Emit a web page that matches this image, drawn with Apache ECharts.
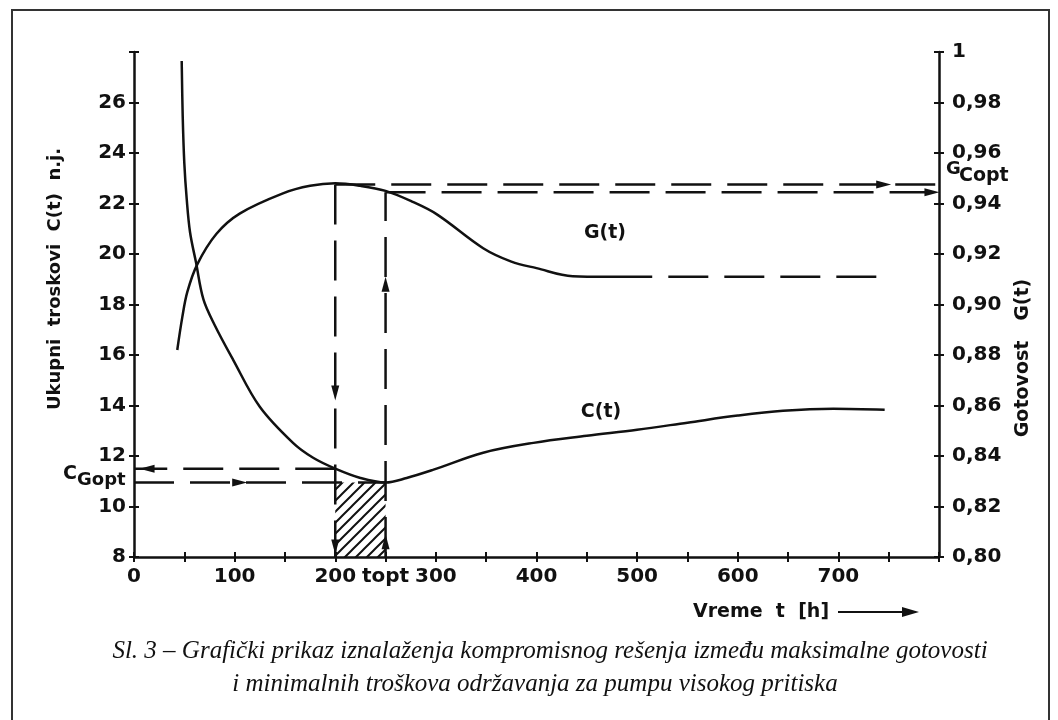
<!DOCTYPE html>
<html>
<head>
<meta charset="utf-8">
<title>Sl. 3</title>
<script src="https://cdn.jsdelivr.net/npm/echarts@6/dist/echarts.min.js"></script>
<style>
  html,body{margin:0;padding:0;background:#fff;}
  #main{width:1058px;height:720px;}
</style>
</head>
<body>
<div id="main"></div>
<script>
// C(t) - ukupni troskovi (leva osa), G(t) - gotovost (desna osa)
var costPoints = [[47.4,27.64],[48.4,25.46],[50,23.6],[52.4,22.17],[55.7,20.86],[61.6,19.67],[69,18.2],[80,17.2],[98.4,15.82],[125,13.95],[158,12.52],[178,11.93],[200,11.5],[225,11.13],[250,10.95],[271,11.13],[297,11.45],[347,12.13],[397,12.52],[450,12.8],[500,13.04],[550,13.32],[600,13.6],[645,13.79],[695,13.87],[746,13.83]];
var availPoints = [[43,0.882],[48,0.895],[53,0.905],[63,0.916],[82,0.928],[105,0.936],[148,0.944],[175,0.947],[200,0.948],[225,0.947],[250,0.945],[275,0.941],[301,0.9357],[347,0.9223],[375,0.917],[400,0.9144],[436,0.9112],[470,0.911],[515,0.911]];
var availTail = [[531,0.911],[746,0.911]];

var tMax = 200, tOpt = 250, tEnd = 800;
var cGopt = [11.5, 10.95];     // gornja i donja linija kod C ose
var gCopt = [0.9475, 0.9445];  // gornja i donja linija kod G ose

// strelice: [t, vrednost, rotacija]
var arrowsC = [[13,11.5,90],[105,10.95,-90],[200,14.5,180],[200,8.4,180],[250,18.8,0],[250,8.6,0]];
var arrowsG = [[745,0.9475,-90],[793,0.9445,-90]];

var xTicks = [0,100,200,300,400,500,600,700];
var leftTicks = [8,10,12,14,16,18,20,22,24,26];

var ink = '#111';
var font = '"DejaVu Sans"';

function hatch(){
  var c = document.createElement('canvas');
  c.width = 11; c.height = 11;
  var g = c.getContext('2d');
  g.strokeStyle = ink;
  g.lineWidth = 2;
  g.beginPath();
  g.moveTo(-2,13); g.lineTo(13,-2);
  g.moveTo(-2,2); g.lineTo(2,-2);
  g.moveTo(9,13); g.lineTo(13,9);
  g.stroke();
  return c;
}

function dashed(data, yIdx){
  return {
    type:'line', yAxisIndex:yIdx, data:data, showSymbol:false, silent:true,
    lineStyle:{color:ink, width:2.5, type:[40,16]}, z:3
  };
}

function arrowData(list){
  return list.map(function(a){
    return {value:[a[0],a[1]], symbolRotate:a[2]};
  });
}

var labelStyle = {color:ink, fontFamily:font, fontWeight:'bold', fontSize:20};
var tickStyle = {color:ink, width:2};

var xBase = {type:'value', min:0, max:800, interval:50, position:'bottom'};
var yLeft = {type:'value', min:8, max:28, interval:2, position:'left'};
var yRight = {type:'value', min:0.8, max:1.0, interval:0.02, position:'right'};

var myChart = echarts.init(document.getElementById('main'));
var option = {
  backgroundColor:'#fff',
  animation:false,
  grid:{left:134, right:119, top:52, bottom:163},
  xAxis:[
    Object.assign({}, xBase, {
      axisLine:{onZero:false, lineStyle:{color:ink, width:2.5}},
      axisTick:{length:5, lineStyle:tickStyle},
      splitLine:{show:false},
      axisLabel:Object.assign({margin:10, formatter:function(v){
        if(v===tOpt) return 'topt';
        if(xTicks.indexOf(v)>=0) return v;
        return '';
      }}, labelStyle)
    }),
    Object.assign({}, xBase, {
      axisLine:{show:false, onZero:false}, axisLabel:{show:false}, splitLine:{show:false},
      axisTick:{inside:true, length:5, lineStyle:tickStyle}
    })
  ],
  yAxis:[
    Object.assign({}, yLeft, {
      axisLine:{show:true, onZero:false, lineStyle:{color:ink, width:2.5}},
      axisTick:{show:true, length:5, lineStyle:tickStyle},
      splitLine:{show:false},
      axisLabel:Object.assign({margin:8, formatter:function(v){
        return leftTicks.indexOf(v)>=0 ? v : '';
      }}, labelStyle)
    }),
    Object.assign({}, yRight, {
      axisLine:{show:true, onZero:false, lineStyle:{color:ink, width:2.5}},
      axisTick:{show:true, length:5, lineStyle:tickStyle},
      splitLine:{show:false},
      axisLabel:Object.assign({margin:13, formatter:function(v){
        if(Math.abs(v-1)<1e-9) return '1';
        return v.toFixed(2).replace('.',',');
      }}, labelStyle)
    }),
    Object.assign({}, yLeft, {
      axisLine:{show:false, onZero:false}, axisLabel:{show:false}, splitLine:{show:false},
      axisTick:{show:true, inside:true, length:5, lineStyle:tickStyle}
    }),
    Object.assign({}, yRight, {
      axisLine:{show:false, onZero:false}, axisLabel:{show:false}, splitLine:{show:false},
      axisTick:{show:true, inside:true, length:5, lineStyle:tickStyle}
    })
  ],
  series:[
    {
      type:'line', yAxisIndex:0, data:[[tMax,cGopt[1]],[tOpt,cGopt[1]]],
      showSymbol:false, silent:true, lineStyle:{width:0, opacity:0},
      areaStyle:{origin:'start', opacity:1, color:{image:hatch(), repeat:'repeat'}}, z:1
    },
    {
      name:'C(t)', type:'line', yAxisIndex:0, data:costPoints, smooth:0.35,
      showSymbol:false, lineStyle:{color:ink, width:2.5}, z:4
    },
    {
      name:'G(t)', type:'line', yAxisIndex:1, data:availPoints, smooth:0.35,
      showSymbol:false, lineStyle:{color:ink, width:2.5}, z:4
    },
    dashed(availTail, 1),
    dashed([[tMax,gCopt[0]],[tMax,0.8]], 1),
    dashed([[tOpt,0.8],[tOpt,gCopt[1]]], 1),
    dashed([[tMax,gCopt[0]],[tEnd,gCopt[0]]], 1),
    dashed([[tOpt,gCopt[1]],[tEnd,gCopt[1]]], 1),
    dashed([[tMax,cGopt[0]],[0,cGopt[0]]], 0),
    dashed([[0,cGopt[1]],[tOpt,cGopt[1]]], 0),
    {
      type:'scatter', yAxisIndex:0, data:arrowData(arrowsC), symbol:'triangle',
      symbolSize:[8,15], itemStyle:{color:ink, opacity:1}, silent:true, z:5
    },
    {
      type:'scatter', yAxisIndex:1, data:arrowData(arrowsG), symbol:'triangle',
      symbolSize:[8,15], itemStyle:{color:ink, opacity:1}, silent:true, z:5
    }
  ],
  graphic:[
    {type:'rect', shape:{x:12, y:10, width:1037, height:740}, style:{fill:'none', stroke:'#333', lineWidth:2}, silent:true},
    {type:'text', x:55, y:279, rotation:Math.PI/2, style:{text:'Ukupni  troskovi  C(t)  n.j.', font:'bold 18px '+font, fill:ink, textAlign:'center', textVerticalAlign:'middle'}},
    {type:'text', x:1023, y:358, rotation:Math.PI/2, style:{text:'Gotovost   G(t)', font:'bold 19px '+font, fill:ink, textAlign:'center', textVerticalAlign:'middle'}},
    {type:'text', x:605, y:233, style:{text:'G(t)', font:'bold 19px '+font, fill:ink, textAlign:'center', textVerticalAlign:'middle'}},
    {type:'text', x:601, y:412, style:{text:'C(t)', font:'bold 19px '+font, fill:ink, textAlign:'center', textVerticalAlign:'middle'}},
    {type:'text', x:63, y:474, style:{text:'C', font:'bold 19px '+font, fill:ink, textAlign:'left', textVerticalAlign:'middle'}},
    {type:'text', x:77, y:480, style:{text:'Gopt', font:'bold 18px '+font, fill:ink, textAlign:'left', textVerticalAlign:'middle'}},
    {type:'text', x:946, y:169, style:{text:'G', font:'bold 18px '+font, fill:ink, textAlign:'left', textVerticalAlign:'middle'}},
    {type:'text', x:959, y:176, style:{text:'Copt', font:'bold 19px '+font, fill:ink, textAlign:'left', textVerticalAlign:'middle'}},
    {type:'text', x:693, y:612, style:{text:'Vreme  t  [h]', font:'bold 19px '+font, fill:ink, textAlign:'left', textVerticalAlign:'middle'}},
    {type:'line', shape:{x1:838, y1:612, x2:908, y2:612}, style:{stroke:ink, lineWidth:2}},
    {type:'polygon', shape:{points:[[902,607],[919,612],[902,617]]}, style:{fill:ink}},
    {type:'text', x:550, y:651, style:{text:'Sl. 3 \u2013 Grafi\u010dki prikaz iznala\u017eenja kompromisnog re\u0161enja izme\u0111u maksimalne gotovosti', font:'italic 25px "Liberation Serif"', fill:ink, textAlign:'center', textVerticalAlign:'middle'}},
    {type:'text', x:535, y:684, style:{text:'i minimalnih tro\u0161kova odr\u017eavanja za pumpu visokog pritiska', font:'italic 25px "Liberation Serif"', fill:ink, textAlign:'center', textVerticalAlign:'middle'}}
  ]
};
myChart.setOption(option);
</script>
</body>
</html>
